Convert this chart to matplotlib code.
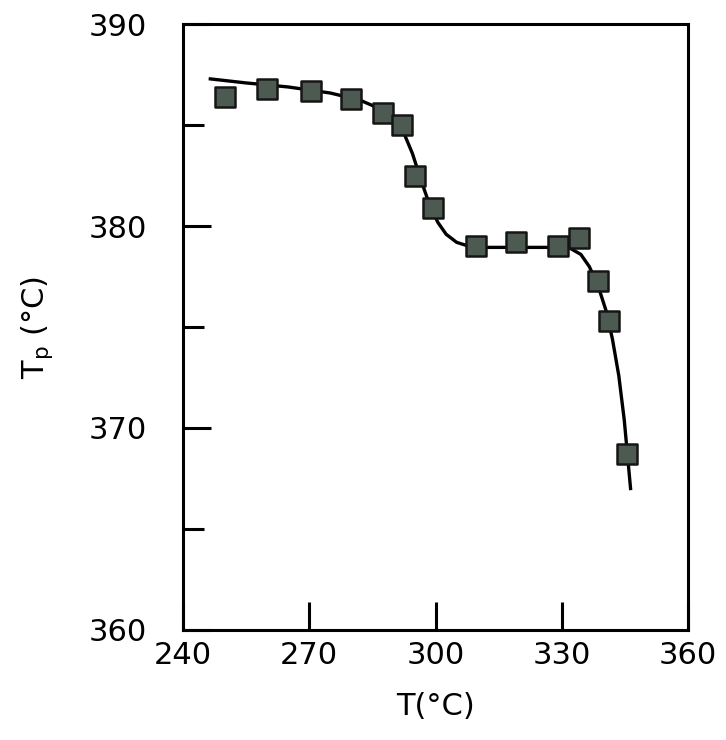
#peak temperature Tp versus annealing temperature T
import numpy as np
import matplotlib.pyplot as plt
from matplotlib.markers import MarkerStyle
from matplotlib.ticker import MultipleLocator

plt.rcParams['font.family'] = ['DejaVu Sans']
plt.rcParams['mathtext.default'] = 'regular'

t_anneal = [250, 260, 270.5, 280, 287.5, 292, 295, 299.3, 309.5, 319.2, 329, 334, 338.6, 341.2, 345.5]
t_peak = [386.4, 386.8, 386.7, 386.3, 385.6, 385.0, 382.5, 380.9, 379.0, 379.2, 379.0, 379.4, 377.3, 375.3, 368.7]

#the hand drawn guide curve
curve_x = [246.5, 255, 265, 275, 282, 287, 290, 292.5, 294.5, 296.5, 298.5, 300.5, 302.5, 305, 308, 312,
           320, 328, 332, 334.5, 336.5, 338.5, 340.5, 342, 343.5, 344.8, 346.3]
curve_y = [387.3, 387.1, 386.9, 386.6, 386.25, 385.8, 385.3, 384.6, 383.6, 382.3, 381.1, 380.2, 379.6, 379.2,
           379.0, 378.95, 378.95, 378.95, 378.9, 378.6, 378.0, 377.1, 375.8, 374.4, 372.6, 370.4, 367.0]

fig = plt.figure(figsize=(7.26, 7.4), dpi=100)
ax = fig.add_axes([0.252, 0.149, 0.696, 0.818])

ax.plot(curve_x, curve_y, color='black', lw=2.4, zorder=2)
sq = MarkerStyle('s', joinstyle='round')
ax.plot(t_anneal, t_peak, ls='none', marker=sq, ms=14, mfc='#4d5a52', mec='#151515', mew=1.8, zorder=3)

ax.set_xlim(240, 360)
ax.set_ylim(360, 390)
ax.xaxis.set_major_locator(MultipleLocator(30))
ax.yaxis.set_major_locator(MultipleLocator(10))
ax.yaxis.set_minor_locator(MultipleLocator(5))

for s in ax.spines.values():
    s.set_linewidth(2.2)

ax.tick_params(axis='both', which='major', direction='in', length=20, width=2.2, labelsize=22,
               top=False, right=False)
ax.tick_params(axis='y', which='major', pad=26)
ax.tick_params(axis='x', which='major', pad=8)
ax.tick_params(axis='y', which='minor', direction='in', length=15, width=2.2, right=False)

ax.set_xlabel('T(°C)', fontsize=22, labelpad=16)
ax.set_ylabel('T$_{p}$ (°C)', fontsize=22, labelpad=24)

fig.savefig('out.png', dpi=100)
